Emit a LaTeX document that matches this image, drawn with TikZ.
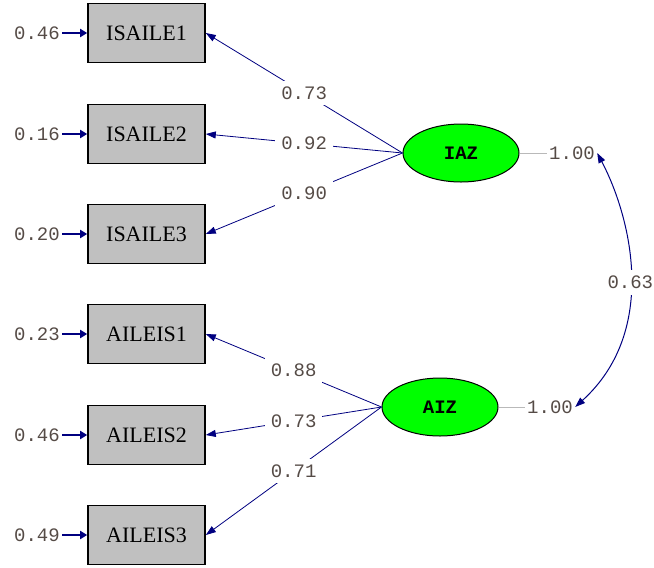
\documentclass[tikz,border=0pt]{standalone}
\usepackage{fontspec}
\setmainfont{Liberation Serif}
\setmonofont{Liberation Mono}
\usetikzlibrary{arrows.meta,shapes.geometric}

\definecolor{pathblue}{RGB}{0,0,128}
\definecolor{latgreen}{RGB}{0,255,0}
\definecolor{boxgray}{RGB}{192,192,192}
\definecolor{vargray}{RGB}{185,185,185}
\definecolor{numgray}{RGB}{85,75,70}

\begin{document}
\begin{tikzpicture}[x=0.5pt, y=-0.5pt,
    obsbox/.style={draw=black, fill=boxgray, line width=0.8pt, inner sep=0pt,
        minimum width=58.5pt, minimum height=29.5pt, font=\fontsize{11}{13}\selectfont},
    latent/.style={ellipse, draw=black, fill=latgreen, line width=0.5pt, inner sep=0pt,
        minimum width=58pt, minimum height=29pt, font=\ttfamily\bfseries\fontsize{9.5}{11}\selectfont},
    num/.style={font=\ttfamily\fontsize{9.5}{11}\selectfont, text=numgray, inner sep=1pt},
    lab/.style={num, fill=white, inner sep=3pt},
    loading/.style={draw=pathblue, line width=0.4pt, -{Triangle[length=5pt,width=3.5pt]}},
    errarrow/.style={draw=pathblue, line width=1.3pt, -{Triangle[length=3.5pt,width=4pt]}},
    varline/.style={draw=vargray, line width=0.5pt},
    corr/.style={draw=pathblue, line width=0.5pt, {Triangle[length=5pt,width=3.5pt]}-{Triangle[length=5pt,width=3.5pt]}}]
    \useasboundingbox (0,0) rectangle (654,568);

    % Observed variables.
    \node[obsbox] (isaile1) at (146.5, 33) {ISAILE1};
    \node[obsbox] (isaile2) at (146.5,134) {ISAILE2};
    \node[obsbox] (isaile3) at (146.5,234) {ISAILE3};
    \node[obsbox] (aileis1) at (146.5,334) {AILEIS1};
    \node[obsbox] (aileis2) at (146.5,435) {AILEIS2};
    \node[obsbox] (aileis3) at (146.5,535) {AILEIS3};

    % Error variances.
    \node[num] (e1) at (37, 33) {0.46};
    \node[num] (e2) at (37,134) {0.16};
    \node[num] (e3) at (37,234) {0.20};
    \node[num] (e4) at (37,334) {0.23};
    \node[num] (e5) at (37,435) {0.46};
    \node[num] (e6) at (37,535) {0.49};
    \draw[errarrow] (e1) -- (isaile1);
    \draw[errarrow] (e2) -- (isaile2);
    \draw[errarrow] (e3) -- (isaile3);
    \draw[errarrow] (e4) -- (aileis1);
    \draw[errarrow] (e5) -- (aileis2);
    \draw[errarrow] (e6) -- (aileis3);

    % Latent variables.
    \node[latent] (iaz) at (461,153) {IAZ};
    \node[latent] (aiz) at (440,407) {AIZ};
    \node[num] (viaz) at (572,153) {1.00};
    \node[num] (vaiz) at (550,407) {1.00};
    \draw[varline] (iaz) -- (viaz);
    \draw[varline] (aiz) -- (vaiz);

    % Loadings.
    \draw[loading] (iaz.west) -- node[lab] {0.73} (isaile1.east);
    \draw[loading] (iaz.west) -- node[lab] {0.92} (isaile2.east);
    \draw[loading] (iaz.west) -- node[lab] {0.90} (isaile3.east);
    \draw[loading] (aiz.west) -- node[lab] {0.88} (aileis1.east);
    \draw[loading] (aiz.west) -- node[lab] {0.73} (aileis2.east);
    \draw[loading] (aiz.west) -- node[lab] {0.71} (aileis3.east);

    % Correlation.
    \draw[corr] (viaz.east) .. controls (630,215) and (660,330) .. node[lab, pos=0.53] {0.63} (vaiz.east);
\end{tikzpicture}
\end{document}
